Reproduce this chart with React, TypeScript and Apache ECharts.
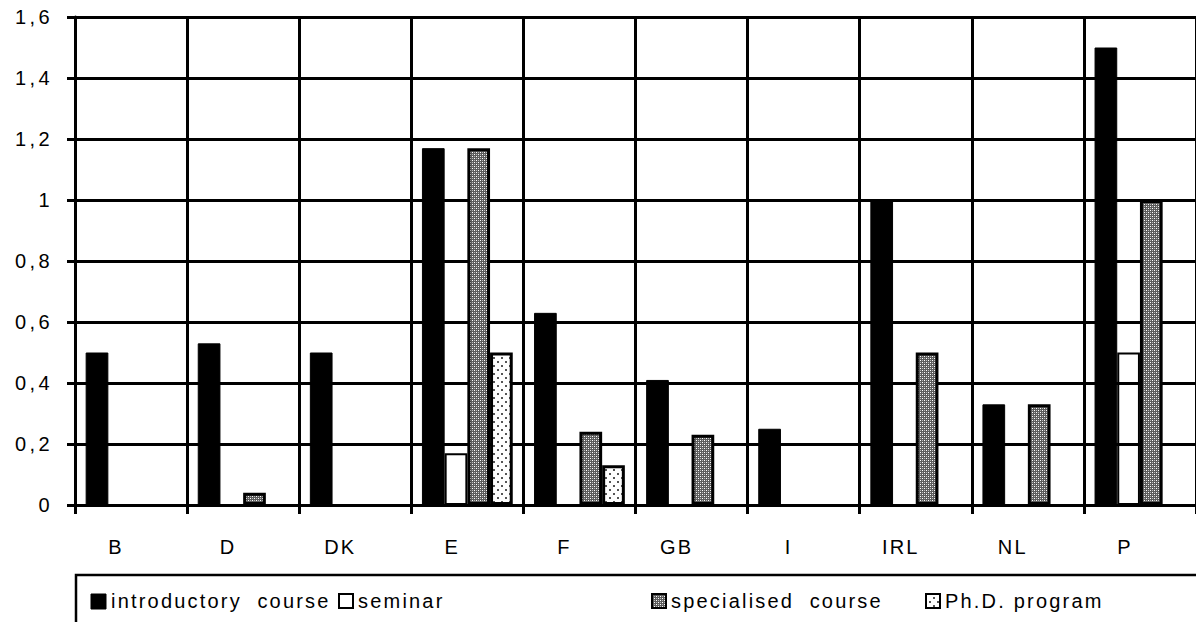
import React, { useEffect, useRef } from 'react';
import * as echarts from 'echarts';

const categories = ['B', 'D', 'DK', 'E', 'F', 'GB', 'I', 'IRL', 'NL', 'P'];
const introductory = [0.5, 0.53, 0.5, 1.17, 0.63, 0.41, 0.25, 1.0, 0.33, 1.5];
const seminar = [0, 0, 0, 0.17, 0, 0, 0, 0, 0, 0.5];
const specialised = [0, 0.04, 0, 1.17, 0.24, 0.23, 0, 0.5, 0.33, 1.0];
const phd = [0, 0, 0, 0.5, 0.13, 0, 0, 0, 0, 0];
const seriesNames = ['introductory  course', 'seminar', 'specialised  course', 'Ph.D. program'];
const yMin = 0;
const yMax = 1.6;
const yStep = 0.2;

const FONT = '"Liberation Sans", Arial, sans-serif';

function makeSpecPattern(): HTMLCanvasElement {
  const c = document.createElement('canvas');
  c.width = 4;
  c.height = 4;
  const g = c.getContext('2d')!;
  g.fillStyle = '#5c5c5c';
  g.fillRect(0, 0, 4, 4);
  g.fillStyle = '#ffffff';
  g.fillRect(0, 0, 1, 1);
  g.fillRect(2, 2, 1, 1);
  g.fillStyle = '#b8b8b8';
  g.fillRect(2, 0, 1, 1);
  g.fillRect(0, 2, 1, 1);
  return c;
}

function makePhdPattern(): HTMLCanvasElement {
  const c = document.createElement('canvas');
  c.width = 8;
  c.height = 8;
  const g = c.getContext('2d')!;
  g.fillStyle = '#ffffff';
  g.fillRect(0, 0, 8, 8);
  g.fillStyle = '#555555';
  g.fillRect(1, 1, 2, 2);
  g.fillRect(5, 5, 2, 2);
  return c;
}

const nz = (arr: number[]) => arr.map((v) => (v === 0 ? null : v));

export default function App() {
  const ref = useRef<HTMLDivElement>(null);
  useEffect(() => {
    document.body.style.margin = '0';
    const chart = echarts.init(ref.current!, null, { renderer: 'svg' });
    const specFill: any = { image: makeSpecPattern(), repeat: 'repeat' };
    const phdFill: any = { image: makePhdPattern(), repeat: 'repeat' };
    const legendY = 601;
    const textStyle = (text: string) => ({ text, font: `20px ${FONT}`, fill: '#000', verticalAlign: 'middle' });
    const option: any = {
      animation: false,
      backgroundColor: '#ffffff',
      grid: { left: 75, top: 17, height: 488, width: 1128 },
      xAxis: {
        type: 'category',
        data: categories,
        boundaryGap: true,
        axisLine: { show: true, lineStyle: { color: '#000', width: 3 } },
        axisTick: { show: true, length: 9, lineStyle: { color: '#000', width: 3 } },
        splitLine: { show: true, interval: 0, lineStyle: { color: '#000', width: 3 } },
        axisLabel: {
          color: '#000',
          fontFamily: FONT,
          fontSize: 20,
          margin: 32,
          interval: 0,
          padding: [0, 30, 0, 0],
        },
      },
      yAxis: {
        type: 'value',
        min: yMin,
        max: yMax,
        interval: yStep,
        axisLine: { show: true, lineStyle: { color: '#000', width: 3 } },
        axisTick: { show: true, length: 8, lineStyle: { color: '#000', width: 3 } },
        splitLine: { show: true, lineStyle: { color: '#000', width: 3 } },
        axisLabel: {
          color: '#000',
          fontFamily: FONT,
          fontSize: 20,
          margin: 22,
          formatter: (v: number) => String(Math.round(v * 10) / 10).replace('.', ','),
        },
      },
      series: [
        {
          name: seriesNames[0],
          type: 'bar',
          data: nz(introductory),
          barGap: '0%',
          barCategoryGap: '19%',
          itemStyle: { color: '#000', borderColor: '#000', borderWidth: 1 },
        },
        {
          name: seriesNames[1],
          type: 'bar',
          data: nz(seminar),
          itemStyle: { color: 'rgba(255,255,255,0)', borderColor: '#000', borderWidth: 2 },
        },
        {
          name: seriesNames[2],
          type: 'bar',
          data: nz(specialised),
          itemStyle: { color: specFill, borderColor: '#000', borderWidth: 3 },
        },
        {
          name: seriesNames[3],
          type: 'bar',
          data: nz(phd),
          itemStyle: { color: phdFill, borderColor: '#000', borderWidth: 3 },
        },
      ],
      graphic: [
        {
          type: 'rect',
          shape: { x: 76, y: 575, width: 1200, height: 120 },
          style: { fill: '#fff', stroke: '#000', lineWidth: 2.5 },
          z: 10,
        },
        { type: 'rect', shape: { x: 91, y: legendY - 7, width: 15, height: 15 }, style: { fill: '#000', stroke: '#000', lineWidth: 1 }, z: 11 },
        { type: 'text', x: 111, y: legendY, style: textStyle(seriesNames[0]), z: 11 },
        { type: 'rect', shape: { x: 339, y: legendY - 7, width: 14, height: 14 }, style: { fill: '#fff', stroke: '#000', lineWidth: 2 }, z: 11 },
        { type: 'text', x: 358, y: legendY, style: textStyle(seriesNames[1]), z: 11 },
        { type: 'rect', shape: { x: 652, y: legendY - 7, width: 14, height: 14 }, style: { fill: specFill, stroke: '#000', lineWidth: 2 }, z: 11 },
        { type: 'text', x: 671, y: legendY, style: textStyle(seriesNames[2]), z: 11 },
        { type: 'rect', shape: { x: 926, y: legendY - 7, width: 14, height: 14 }, style: { fill: phdFill, stroke: '#000', lineWidth: 2 }, z: 11 },
        { type: 'text', x: 945, y: legendY, style: textStyle(seriesNames[3]), z: 11 },
      ],
    };
    chart.setOption(option);
    return () => chart.dispose();
  }, []);
  return (
    <>
      <style>{`#chart svg text { letter-spacing: 2.2px; white-space: pre; } #chart svg text[text-anchor="end"] { letter-spacing: 3.4px; }`}</style>
      <div id="chart" ref={ref} style={{ width: 1196, height: 622 }} />
    </>
  );
}
